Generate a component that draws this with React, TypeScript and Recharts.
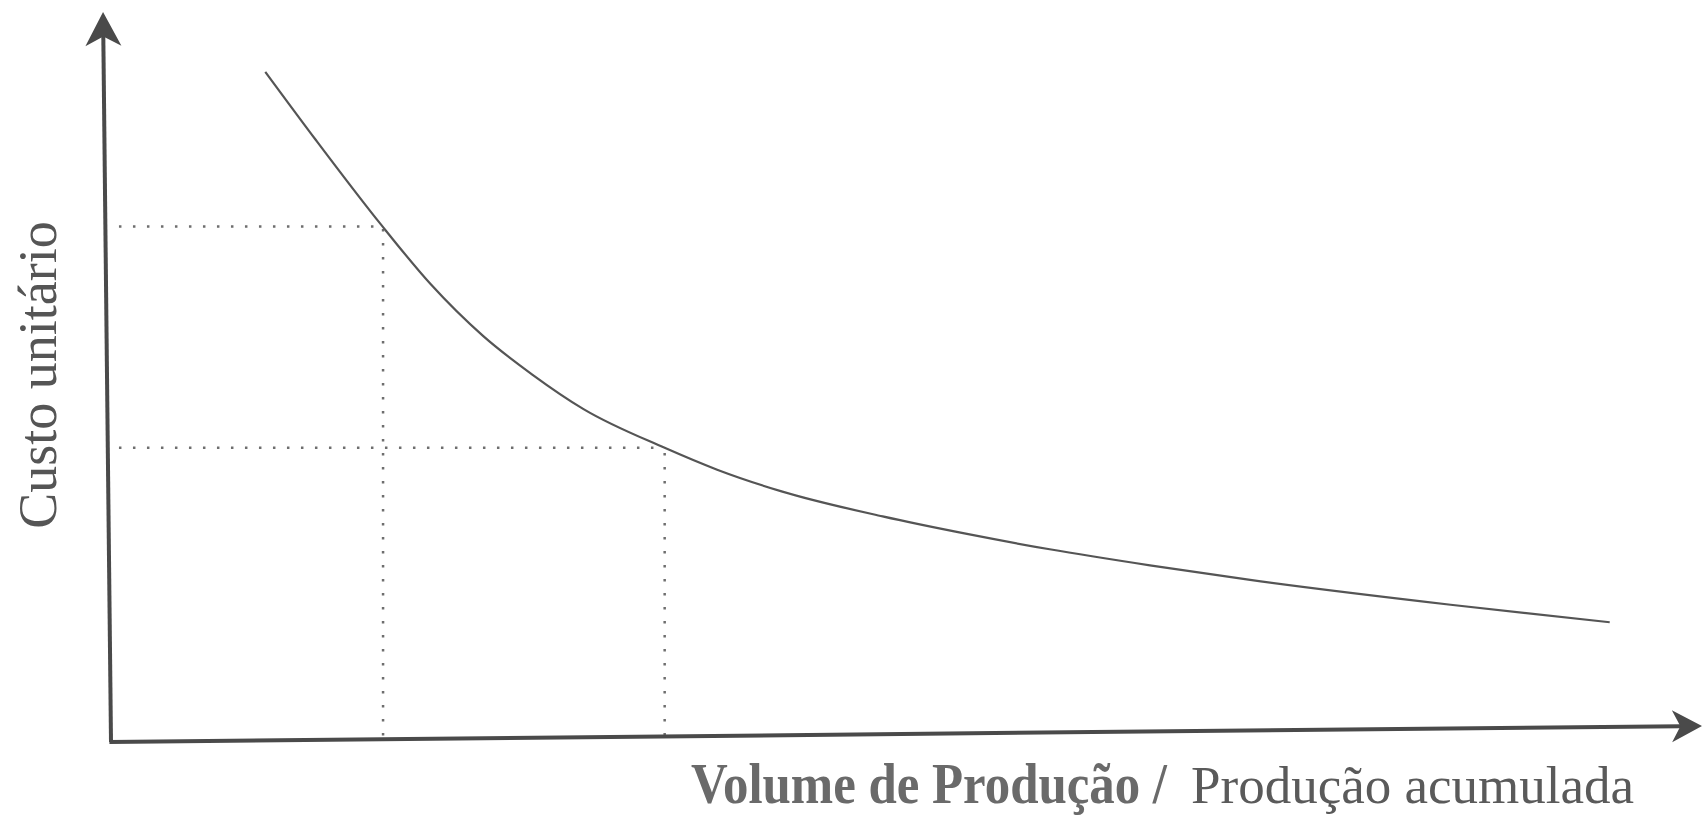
import React from 'react';
import { LineChart, Line, XAxis, YAxis, ReferenceLine } from 'recharts';

// learning curve (x: volume, y: unit cost, both 0-100)
const volume = [9.7, 12.9, 17.0, 20.1, 23.4, 26.5, 29.7, 34.8, 38.1, 42.2, 48.5, 53.8, 59.0, 65.3, 71.6, 84.2, 94.2];
const unitCost = [91.8, 82.4, 70.8, 62.7, 55.6, 50.3, 45.6, 40.3, 37.3, 34.3, 30.9, 28.5, 26.4, 24.2, 22.2, 18.8, 16.4];

// two marked points with dotted guides
const guideX = [17.1, 34.8];
const guideY = [70.6, 40.3];

// hand-drawn axes are a bit tilted in the scan
const yAxisTip = { x: -0.5, y: 100 };
const xAxisTip = { x: 100, y: 2.2 };

const data = volume.map((v, i) => ({ x: v, y: unitCost[i] }));

const AXIS = '#4a4a4a';
const GUIDE = '#6e6e6e';

function arrowShape(len: number, half: number, kind: 'x' | 'y') {
  return (props: any) => {
    const { x1, y1, x2, y2 } = props;
    const dx = x2 - x1;
    const dy = y2 - y1;
    const d = Math.hypot(dx, dy) || 1;
    const ux = dx / d;
    const uy = dy / d;
    const nx = -uy;
    const ny = ux;
    const bx = x2 - ux * len;
    const by = y2 - uy * len;
    const pts = [
      [x2, y2],
      [bx + nx * half, by + ny * half],
      [x2 - ux * len * 0.72, y2 - uy * len * 0.72],
      [bx - nx * half, by - ny * half],
    ]
      .map((p) => p.join(','))
      .join(' ');
    return (
      <g>
        <line
          x1={x1}
          y1={y1}
          x2={x2 - ux * len * 0.7}
          y2={y2 - uy * len * 0.7}
          stroke={AXIS}
          strokeWidth={4}
        />
        <polygon points={pts} fill={AXIS} />
        {kind === 'y' && (
          <text
            x={38}
            y={375}
            transform="rotate(-90, 38, 375)"
            textAnchor="middle"
            dominantBaseline="central"
            fontFamily="'Liberation Serif', serif"
            fontSize={54}
            fill="#555"
          >
            Custo unitário
          </text>
        )}
        {kind === 'x' && (
          <text y={803} fontFamily="'Liberation Serif', serif" fill="#5a5a5a">
            <tspan
              x={691}
              fontSize={58}
              fontWeight="bold"
              fill="#6a6a6a"
              textLength={476}
              lengthAdjust="spacingAndGlyphs"
            >
              Volume de Produção /
            </tspan>
            <tspan x={1191} fontSize={53} textLength={443} lengthAdjust="spacingAndGlyphs">
              Produção acumulada
            </tspan>
          </text>
        )}
      </g>
    );
  };
}

export default function App() {
  return (
    <div style={{ position: 'absolute', left: 0, top: 0, width: 1702, height: 816, background: '#fff' }}>
      <LineChart
        width={1702}
        height={816}
        data={data}
        margin={{ top: 12, right: 0, bottom: 74, left: 111 }}
      >
        <XAxis type="number" dataKey="x" domain={[0, 100]} hide />
        <YAxis type="number" dataKey="y" domain={[0, 100]} hide />
        {guideX.map((gx, i) => (
          <ReferenceLine
            key={'h' + i}
            segment={[{ x: 0.5, y: guideY[i] }, { x: gx, y: guideY[i] }]}
            stroke={GUIDE}
            strokeWidth={2.5}
            strokeDasharray="2.5 11.5"
            ifOverflow="visible"
          />
        ))}
        {guideX.map((gx, i) => (
          <ReferenceLine
            key={'v' + i}
            segment={[{ x: gx, y: 0.9 }, { x: gx, y: guideY[i] }]}
            stroke={GUIDE}
            strokeWidth={2.5}
            strokeDasharray="2.5 11.5"
            ifOverflow="visible"
          />
        ))}
        <ReferenceLine
          segment={[{ x: 0, y: 0 }, yAxisTip]}
          ifOverflow="visible"
          shape={arrowShape(34, 18, 'y')}
        />
        <ReferenceLine
          segment={[{ x: -0.1, y: 0 }, xAxisTip]}
          ifOverflow="visible"
          shape={arrowShape(30, 16, 'x')}
        />
        <Line
          type="monotone"
          dataKey="y"
          stroke="#555"
          strokeWidth={2.2}
          dot={false}
          isAnimationActive={false}
        />
      </LineChart>
    </div>
  );
}
